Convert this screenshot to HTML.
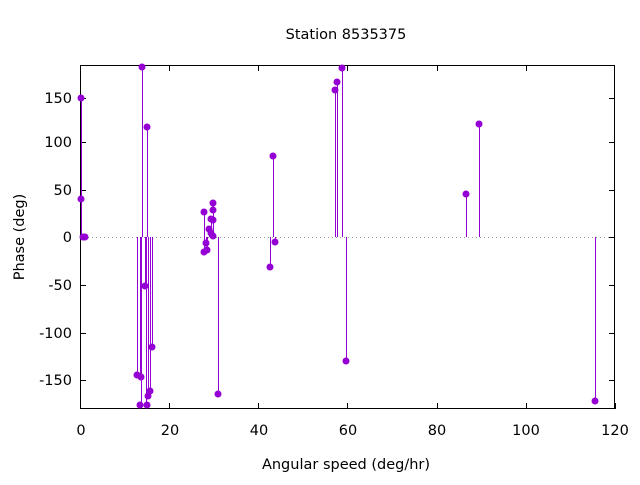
<!DOCTYPE html><html><head><style>body{margin:0;background:#fff}svg{font-family:"DejaVu Sans","Liberation Sans",sans-serif}</style></head><body>
<svg width="640" height="480" viewBox="0 0 640 480" xmlns="http://www.w3.org/2000/svg">
<text x="346" y="39" font-size="14.5" text-anchor="middle">Station 8535375</text>
<line x1="80" y1="237.5" x2="615" y2="237.5" stroke="#999" stroke-dasharray="1,3"/>
<g stroke="#000" stroke-width="1">
<rect x="80.5" y="65.5" width="534" height="343" fill="none"/>
<path d="M80,98.5h6M80,142.5h6M80,190.5h6M80,237.5h6M80,285.5h6M80,333.5h6M80,380.5h6M615,98.5h-6M615,142.5h-6M615,190.5h-6M615,237.5h-6M615,285.5h-6M615,333.5h-6M615,380.5h-6M80.5,409v-6M169.5,409v-6M258.5,409v-6M347.5,409v-6M437.5,409v-6M526.5,409v-6M615.5,409v-6M80.5,65v6M169.5,65v6M258.5,65v6M347.5,65v6M437.5,65v6M526.5,65v6"/>
</g>
<g font-size="14.5" text-anchor="end">
<text x="72" y="103">150</text><text x="72" y="147">100</text><text x="72" y="195">50</text><text x="72" y="242">0</text><text x="72" y="290">-50</text><text x="72" y="338">-100</text><text x="72" y="385">-150</text>
</g>
<g font-size="14.5" text-anchor="middle">
<text x="81" y="435">0</text><text x="170" y="435">20</text><text x="259" y="435">40</text><text x="348" y="435">60</text><text x="437" y="435">80</text><text x="526" y="435">100</text><text x="615" y="435">120</text>
<text x="346" y="469">Angular speed (deg/hr)</text>
<text transform="translate(24,237) rotate(-90)">Phase (deg)</text>
</g>
<g stroke="#9400d3" stroke-width="1" fill="#9400d3">
<path d="M81.5,237V98M81.5,237V199M137.5,237V375M141.5,237V405M140.5,237V377M142.5,237V67M145.5,237V286M147.5,237V127M146.5,237V405M148.5,237V395M150.5,237V391M152.5,237V347M204.5,237V212M204.5,237V252M206.5,237V243M207.5,237V250M209.5,237V229M211.5,237V219M211.5,237V233M213.5,237V203M213.5,237V210M213.5,237V220M218.5,237V394M270.5,237V267M273.5,237V156M275.5,237V242M335.5,237V90M337.5,237V82M342.5,237V68M346.5,237V361M466.5,237V194M479.5,237V124M595.5,237V401"/>
<g stroke="none">
<circle cx="81" cy="98" r="3.5"/><circle cx="81" cy="199" r="3.5"/><circle cx="83" cy="237" r="3.5"/><circle cx="85" cy="237" r="3.5"/>
<circle cx="137" cy="375" r="3.5"/><circle cx="140" cy="405" r="3.5"/><circle cx="141" cy="377" r="3.5"/><circle cx="142" cy="67" r="3.5"/><circle cx="145" cy="286" r="3.5"/><circle cx="147" cy="127" r="3.5"/><circle cx="147" cy="405" r="3.5"/><circle cx="148" cy="396" r="3.5"/><circle cx="150" cy="391" r="3.5"/><circle cx="152" cy="347" r="3.5"/>
<circle cx="204" cy="212" r="3.5"/><circle cx="204" cy="252" r="3.5"/><circle cx="206" cy="243" r="3.5"/><circle cx="207" cy="250" r="3.5"/><circle cx="209" cy="229" r="3.5"/><circle cx="211" cy="219" r="3.5"/><circle cx="211" cy="233" r="3.5"/><circle cx="213" cy="203" r="3.5"/><circle cx="213" cy="210" r="3.5"/><circle cx="213" cy="220" r="3.5"/><circle cx="213" cy="236" r="3.5"/><circle cx="218" cy="394" r="3.5"/>
<circle cx="270" cy="267" r="3.5"/><circle cx="273" cy="156" r="3.5"/><circle cx="275" cy="242" r="3.5"/>
<circle cx="335" cy="90" r="3.5"/><circle cx="337" cy="82" r="3.5"/><circle cx="342" cy="68" r="3.5"/><circle cx="346" cy="361" r="3.5"/>
<circle cx="466" cy="194" r="3.5"/><circle cx="479" cy="124" r="3.5"/><circle cx="595" cy="401" r="3.5"/>
</g></g>
</svg></body></html>
